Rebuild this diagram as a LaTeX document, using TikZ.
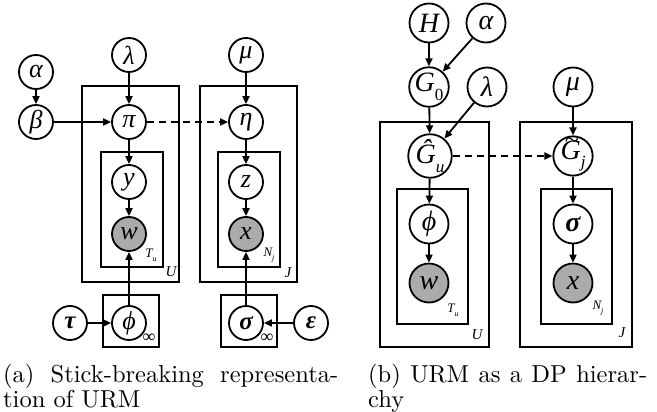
\documentclass[tikz,border=0pt]{standalone}
\usepackage{fontspec}
\newfontfamily\tms{Liberation Serif}
\newfontfamily\capfont{lmroman10-regular.otf}
\usetikzlibrary{arrows.meta}
\newcommand\tilG{\makebox[0pt][l]{\hspace{0.15em}\raisebox{0.4em}[0pt][0pt]{\fontsize{26}{26}\selectfont\char"7E}}G}
\newcommand\sub[1]{\raisebox{-0.3em}{\fontsize{17}{17}\selectfont #1}}
\newcommand\psub[1]{\raisebox{-0.3em}{\fontsize{8}{8}\selectfont #1}}
\begin{document}
\begin{tikzpicture}[x=1pt,y=-1pt,
  var/.style={circle,draw,line width=1.8pt,minimum size=34pt,inner sep=0pt,fill=white,
    font=\tms\itshape\fontsize{26}{26}\selectfont},
  bvar/.style={var,minimum size=39pt,font=\tms\itshape\fontsize{28}{28}\selectfont},
  bold/.style={font=\tms\bfseries\itshape\fontsize{25}{25}\selectfont},
  obs/.style={fill=black!33},
  plate/.style={draw,line width=1.8pt},
  arr/.style={line width=1.8pt,-{Triangle[length=8pt,width=7pt]}},
  darr/.style={arr,dash pattern=on 7pt off 5pt},
  lab/.style={inner sep=0pt,font=\tms\itshape\fontsize{15}{15}\selectfont},
  slab/.style={inner sep=0pt,font=\tms\itshape\fontsize{13}{13}\selectfont},
  captxt/.style={anchor=base west,inner sep=0pt,font=\capfont\fontsize{24.5}{30}\selectfont}]
\useasboundingbox (0,0) rectangle (657,412);
% ---------- (a) ----------
\draw[plate] (82,86) rectangle (179,282);
\draw[plate] (200,86) rectangle (297,282);
\draw[plate] (101,152) rectangle (163,267);
\draw[plate] (218,152) rectangle (280,267);
\draw[plate] (103,295) rectangle (159,347);
\draw[plate] (221,295) rectangle (277,347);
\node[slab] (lTu) at (151,255) {T\psub{u}};
\node[lab] (lU) at (171,272) {U};
\node[slab] (lNj) at (269,255) {N\psub{j}};
\node[lab] (lJ) at (288,273) {J};
\node[inner sep=0pt,font=\tms\fontsize{18}{18}\selectfont] (inf1) at (149,338) {∞};
\node[inner sep=0pt,font=\tms\fontsize{18}{18}\selectfont] (inf2) at (267,338) {∞};
\node[var] (aalpha) at (36,72) {α};
\node[var] (abeta) at (36,122) {β};
\node[var] (alambda) at (129,55) {λ};
\node[var] (amu) at (246,55) {μ};
\node[var] (api) at (129,122) {π};
\node[var] (aeta) at (246,122) {η};
\node[var] (ay) at (129,182) {y};
\node[var] (az) at (246,182) {z};
\node[var,obs] (aw) at (129,234) {w};
\node[var,obs] (ax) at (246,234) {x};
\node[var,bold] (atau) at (70,323) {τ};
\node[var] (aphi) at (129,323) {ϕ};
\node[var,bold] (asigma) at (246,323) {σ};
\node[var,bold] (aeps) at (311,323) {ε};
\draw[arr] (aalpha) -- (abeta);
\draw[arr] (abeta) -- (api);
\draw[arr] (alambda) -- (api);
\draw[arr] (amu) -- (aeta);
\draw[darr] (api) -- (aeta);
\draw[arr] (api) -- (ay);
\draw[arr] (ay) -- (aw);
\draw[arr] (aeta) -- (az);
\draw[arr] (az) -- (ax);
\draw[arr] (aphi) -- (aw);
\draw[arr] (asigma) -- (ax);
\draw[arr] (atau) -- (aphi);
\draw[arr] (aeps) -- (asigma);
\node[captxt] (capa1) at (3,382) {\makebox[335pt][s]{(a) Stick-breaking representa-}};
\node[captxt] (capa2) at (3,407) {tion of URM};
% ---------- (b) ----------
\draw[plate] (380,122) rectangle (489,347);
\draw[plate] (520,122) rectangle (632,347);
\draw[plate] (397,189) rectangle (468,324);
\draw[plate] (541,189) rectangle (612,324);
\node[slab] (bTu) at (453,310) {T\psub{u}};
\node[lab] (bU) at (477,335) {U};
\node[slab] (bNj) at (598,308) {N\psub{j}};
\node[lab] (bJ) at (622,333) {J};
\node[bvar] (bH) at (429,23) {H};
\node[bvar] (balpha) at (486,23) {α};
\node[bvar] (bG0) at (429,87) {G\sub{\upshape 0}};
\node[bvar] (blambda) at (487,87) {λ};
\node[bvar] (bmu) at (573,87) {μ};
\node[bvar] (bGu) at (430,156) {Ĝ\sub{u}};
\node[bvar] (bGj) at (573,156) {\tilG\sub{j}};
\node[bvar] (bphi) at (429,224) {ϕ};
\node[bvar,obs] (bw) at (429,283) {w};
\node[bvar,font=\tms\bfseries\itshape\fontsize{28}{28}\selectfont] (bsigma) at (573,224) {σ};
\node[bvar,obs] (bx) at (573,283) {x};
\draw[arr] (bH) -- (bG0);
\draw[arr] (balpha) -- (bG0);
\draw[arr] (bG0) -- (bGu);
\draw[arr] (blambda) -- (bGu);
\draw[arr] (bmu) -- (bGj);
\draw[darr] (bGu) -- (bGj);
\draw[arr] (bGu) -- (bphi);
\draw[arr] (bphi) -- (bw);
\draw[arr] (bGj) -- (bsigma);
\draw[arr] (bsigma) -- (bx);
\node[captxt] (capb1) at (368,382) {\makebox[279pt][s]{(b) URM as a DP hierar-}};
\node[captxt] (capb2) at (368,407) {chy};
\end{tikzpicture}
\end{document}
